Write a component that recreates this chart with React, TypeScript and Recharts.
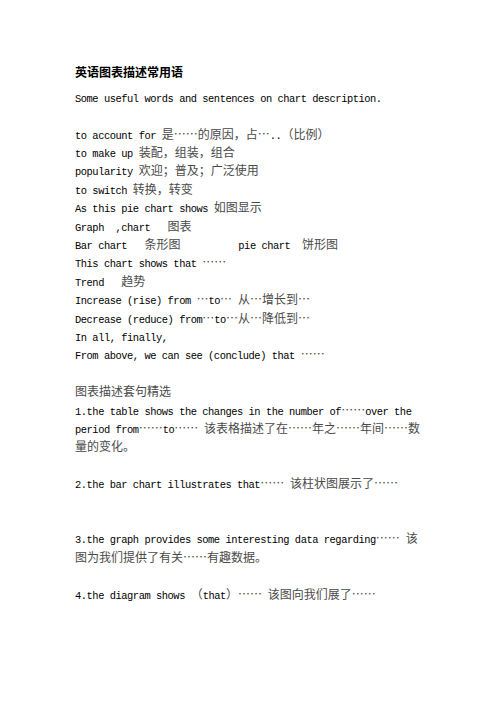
import React from "react";
import { Surface, Layer } from "recharts";

const TITLE = "英语图表描述常用语";
const INTRO = "Some useful words and sentences on chart description.";

const PHRASES = [
  "to account for 是……的原因，占…..（比例）",
  "to make up 装配，组装，组合",
  "popularity 欢迎；普及；广泛使用",
  "to switch 转换，转变",
  "As this pie chart shows 如图显示",
  "Graph  ,chart   图表",
  "Bar chart   条形图          pie chart  饼形图",
  "This chart shows that ……",
  "Trend   趋势",
  "Increase (rise) from …to… 从…增长到…",
  "Decrease (reduce) from…to…从…降低到…",
  "In all, finally,",
  "From above, we can see (conclude) that ……",
];

const SECTION = "图表描述套句精选";

const SENTENCE_1 = [
  "1.the table shows the changes in the number of……over the",
  "period from……to…… 该表格描述了在……年之……年间……数",
  "量的变化。",
];
const SENTENCE_2 = ["2.the bar chart illustrates that…… 该柱状图展示了……"];
const SENTENCE_3 = [
  "3.the graph provides some interesting data regarding…… 该",
  "图为我们提供了有关……有趣数据。",
];
const SENTENCE_4 = ["4.the diagram shows （that）…… 该图向我们展了……"];

// page layout
const W = 496;
const H = 702;
const LEFT = 75;
const TITLE_Y = 77;
const FIRST_Y = 101.7;
const LINE_H = 18.4;

const LINES = [
  INTRO,
  "",
  ...PHRASES,
  "",
  SECTION,
  ...SENTENCE_1,
  "",
  ...SENTENCE_2,
  "",
  "",
  ...SENTENCE_3,
  "",
  ...SENTENCE_4,
];

// wide glyphs (CJK, full-width punctuation, ellipsis) get the CJK font
const WIDE = /[\u2026\u3000-\u303f\u4e00-\u9fff\uff00-\uffef]/;

function splitRuns(line: string) {
  const runs: { text: string; wide: boolean }[] = [];
  for (const ch of line) {
    const wide = WIDE.test(ch);
    const last = runs[runs.length - 1];
    if (last && last.wide === wide) last.text += ch;
    else runs.push({ text: ch, wide });
  }
  return runs;
}

const latinStyle = {
  fontFamily: "'Liberation Mono', monospace",
  fontSize: 10.4,
  letterSpacing: -0.45,
  fill: "#000",
};
const cjkStyle = {
  fontFamily: "'Noto Sans CJK SC', sans-serif",
  fontSize: 12,
  fill: "#4a4a4a",
};

function Line({ text, y }: { text: string; y: number }) {
  return (
    <text x={LEFT} y={y} lang="zh-CN" style={{ whiteSpace: "pre" }}>
      {splitRuns(text).map((r, i) => (
        <tspan key={i} {...(r.wide ? cjkStyle : latinStyle)}>
          {r.text}
        </tspan>
      ))}
    </text>
  );
}

export default function App() {
  return (
    <div style={{ position: "absolute", left: 0, top: 0, width: W, height: H, background: "#fff" }}>
      <Surface width={W} height={H} viewBox={{ x: 0, y: 0, width: W, height: H }}>
        <Layer>
          <text
            x={LEFT}
            y={TITLE_Y}
            lang="zh-CN"
            fontFamily="'Noto Sans CJK SC', sans-serif"
            fontSize={12}
            fontWeight={700}
            fill="#000"
          >
            {TITLE}
          </text>
          {LINES.map((t, i) =>
            t ? <Line key={i} text={t} y={FIRST_Y + i * LINE_H} /> : null
          )}
        </Layer>
      </Surface>
    </div>
  );
}
